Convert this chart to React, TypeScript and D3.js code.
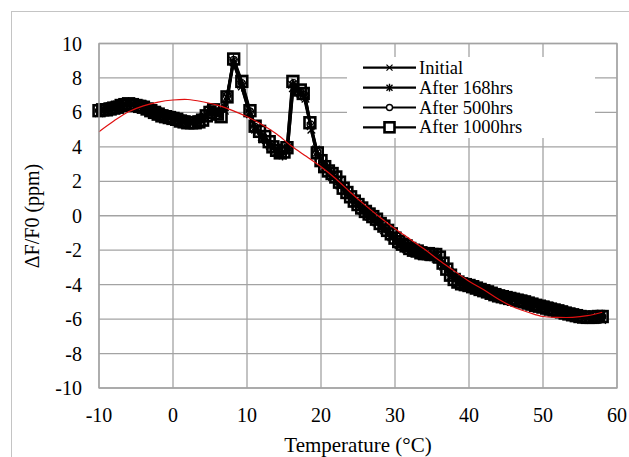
import React, { useEffect, useRef } from 'react'
import * as d3 from 'd3'

// x ticks / y ticks
const xTicks = [-10, 0, 10, 20, 30, 40, 50, 60]
const yTicks = [-10, -8, -6, -4, -2, 0, 2, 4, 6, 8, 10]

const seriesNames = ['Initial', 'After 168hrs', 'After 500hrs', 'After 1000hrs']

// [temperature, dF/F0]
const initial = [
  [-10, 5.95], [-9, 6.05], [-8, 6.15], [-7, 6.3], [-6, 6.4], [-5, 6.3], [-4, 6.2], [-3, 6.0],
  [-2, 5.8], [-1, 5.65], [0, 5.55], [1, 5.4], [2, 5.3], [3, 5.3], [4, 5.45], [5, 5.9],
  [6, 5.8], [7, 6.1], [7.4, 6.8], [8.1, 9.0], [9.2, 7.6], [10.3, 6.0], [11, 5.1], [12, 4.55],
  [13, 4.15], [14, 3.7], [14.7, 3.55], [15.4, 3.85], [16.1, 7.6], [17.1, 7.2], [17.8, 6.9], [18.6, 5.2],
  [19.4, 3.65], [20.4, 2.8], [21.5, 2.25], [22.5, 1.75], [23.5, 1.2], [24.5, 0.75], [25.5, 0.3], [26.5, -0.05],
  [27.5, -0.4], [28.5, -0.85], [29.5, -1.25], [30.5, -1.7], [31.5, -1.95], [32.5, -2.15], [33.5, -2.3], [34.5, -2.4],
  [35.5, -2.5], [36.5, -2.95], [37.5, -3.5], [38.5, -3.9], [39.5, -4.1], [40.5, -4.25], [41.5, -4.4], [42.5, -4.55],
  [43.5, -4.7], [44.5, -4.8], [45.5, -4.9], [46.5, -5.0], [47.5, -5.1], [48.5, -5.25], [49.5, -5.35], [50.5, -5.45],
  [51.5, -5.55], [52.5, -5.7], [53.5, -5.8], [54.5, -5.9], [55.5, -6.0], [56.5, -6.05], [57.5, -6.0], [58, -6.05]
]

const after168 = [
  [-10, 6.25], [-9, 6.3], [-8, 6.4], [-7, 6.5], [-6, 6.6], [-5, 6.55], [-4, 6.45], [-3, 6.25],
  [-2, 6.05], [-1, 5.9], [0, 5.8], [1, 5.65], [2, 5.55], [3, 5.55], [4, 5.7], [5, 6.15],
  [6, 6.0], [7, 6.3], [7.3, 6.9], [8.2, 8.9], [9.3, 7.5], [10.4, 5.9], [11.1, 5.0], [12.1, 4.45],
  [13.1, 4.05], [14.1, 3.65], [14.8, 3.5], [15.5, 3.95], [16.2, 7.4], [17.2, 7.1], [17.9, 6.8], [18.7, 5.0],
  [19.3, 3.85], [20.3, 3.1], [21.4, 2.5], [22.4, 2.0], [23.4, 1.45], [24.4, 1.0], [25.4, 0.55], [26.4, 0.2],
  [27.4, -0.15], [28.4, -0.6], [29.4, -1.0], [30.4, -1.45], [31.4, -1.7], [32.4, -1.9], [33.4, -2.05], [34.4, -2.15],
  [35.4, -2.25], [36.4, -2.7], [37.4, -3.25], [38.4, -3.65], [39.4, -3.85], [40.4, -4.0], [41.4, -4.15], [42.4, -4.3],
  [43.4, -4.45], [44.4, -4.55], [45.4, -4.65], [46.4, -4.75], [47.4, -4.85], [48.4, -5.0], [49.4, -5.1], [50.4, -5.2],
  [51.4, -5.3], [52.4, -5.45], [53.4, -5.55], [54.4, -5.65], [55.4, -5.75], [56.4, -5.8], [57.4, -5.75], [58, -5.75]
]

const after500 = [
  [-10, 6.1], [-9, 6.2], [-8, 6.3], [-7, 6.4], [-6, 6.5], [-5, 6.45], [-4, 6.3], [-3, 6.1],
  [-2, 5.95], [-1, 5.8], [0, 5.7], [1, 5.55], [2, 5.45], [3, 5.45], [4, 5.6], [5, 6.05],
  [6, 5.85], [7, 6.3], [7.3, 6.95], [8.2, 9.05], [9.3, 7.7], [10.4, 6.05], [11.1, 5.15], [12.2, 4.6],
  [13.2, 4.15], [14.2, 3.7], [14.9, 3.6], [15.5, 4.0], [16.3, 7.7], [17.2, 7.2], [17.8, 7.0], [18.6, 5.3],
  [19.5, 3.7], [20.5, 2.9], [21.6, 2.35], [22.6, 1.8], [23.6, 1.25], [24.6, 0.8], [25.6, 0.4], [26.6, 0.0],
  [27.6, -0.3], [28.6, -0.7], [29.6, -1.15], [30.6, -1.6], [31.6, -1.85], [32.6, -2.05], [33.6, -2.2], [34.6, -2.3],
  [35.6, -2.35], [36.6, -2.9], [37.6, -3.45], [38.6, -3.85], [39.6, -4.0], [40.6, -4.15], [41.6, -4.3], [42.6, -4.45],
  [43.6, -4.6], [44.6, -4.7], [45.6, -4.8], [46.6, -4.9], [47.6, -5.0], [48.6, -5.12], [49.6, -5.25], [50.6, -5.35],
  [51.6, -5.45], [52.6, -5.6], [53.6, -5.7], [54.6, -5.8], [55.6, -5.85], [56.6, -5.9], [57.6, -5.85], [58, -5.85]
]

const after1000 = [
  [-10, 6.1], [-9.5, 6.15], [-9, 6.15], [-8.5, 6.2], [-8, 6.25], [-7.5, 6.3], [-7, 6.4], [-6.5, 6.45],
  [-6, 6.5], [-5.5, 6.45], [-5, 6.4], [-4.5, 6.35], [-4, 6.3], [-3.5, 6.2], [-3, 6.1], [-2.5, 6.0],
  [-2, 5.9], [-1.5, 5.8], [-1, 5.75], [-0.5, 5.7], [0, 5.65], [0.5, 5.6], [1, 5.5], [1.5, 5.45],
  [2, 5.4], [2.5, 5.4], [3, 5.4], [3.5, 5.45], [4, 5.55], [4.5, 5.8], [5, 6.0], [5.5, 6.15],
  [6, 5.9], [6.5, 5.75], [7.3, 6.9], [8.2, 9.1], [9.3, 7.8], [10.4, 6.1], [11.1, 5.2], [11.7, 4.9],
  [12.4, 4.6], [13, 4.3], [13.5, 4.0], [14, 3.8], [14.5, 3.65], [15, 3.7], [15.4, 3.95], [16.2, 7.8],
  [17.2, 7.3], [17.6, 7.1], [18.5, 5.4], [19.5, 3.65], [20, 3.2], [20.5, 2.85], [21, 2.6], [21.5, 2.45],
  [22, 2.25], [22.5, 1.95], [23, 1.6], [23.5, 1.35], [24, 1.1], [24.5, 0.85], [25, 0.65], [25.5, 0.45],
  [26, 0.25], [26.5, 0.1], [27, -0.05], [27.5, -0.2], [28, -0.45], [28.5, -0.6], [29, -0.85], [29.5, -1.05],
  [30, -1.3], [30.5, -1.5], [31, -1.65], [31.5, -1.75], [32, -1.9], [32.5, -2.0], [33, -2.05], [33.5, -2.15],
  [34, -2.2], [34.5, -2.2], [35, -2.25], [35.5, -2.25], [36, -2.4], [36.5, -2.75], [37, -3.1], [37.5, -3.45],
  [38, -3.7], [38.5, -3.85], [39, -3.95], [39.5, -4.0], [40, -4.05], [40.5, -4.12], [41, -4.2], [41.5, -4.28],
  [42, -4.35], [42.5, -4.42], [43, -4.5], [43.5, -4.58], [44, -4.65], [44.5, -4.7], [45, -4.75], [45.5, -4.8],
  [46, -4.85], [46.5, -4.9], [47, -4.95], [47.5, -5.0], [48, -5.07], [48.5, -5.13], [49, -5.2], [49.5, -5.25],
  [50, -5.3], [50.5, -5.36], [51, -5.42], [51.5, -5.47], [52, -5.52], [52.5, -5.58], [53, -5.65], [53.5, -5.7],
  [54, -5.75], [54.5, -5.8], [55, -5.85], [55.5, -5.88], [56, -5.9], [56.5, -5.9], [57, -5.88], [57.5, -5.85],
  [58, -5.85]
]

// red trend line
const trend = [
  [-10, 4.88], [-8, 5.5], [-6, 6.04], [-4, 6.38], [-2, 6.6], [0, 6.72], [2, 6.75], [4, 6.62],
  [6, 6.42], [8, 6.12], [10, 5.75], [12, 5.3], [14, 4.75], [16, 4.05], [18, 3.45], [20, 2.85],
  [22, 2.15], [24, 1.35], [26, 0.6], [28, -0.1], [30, -0.75], [32, -1.35], [34, -1.95], [36, -2.6],
  [38, -3.2], [40, -3.8], [42, -4.3], [44, -4.85], [46, -5.3], [48, -5.6], [50, -5.85], [52, -5.9],
  [54, -5.9], [56, -5.8], [58, -5.6]
]

const FONT = "'Liberation Serif', 'Times New Roman', serif"

const App = () => {
  const ref = useRef(null)

  useEffect(() => {
    const svg = d3.select(ref.current)
    svg.selectAll('*').remove()

    const left = 99, right = 617, top = 43.5, bottom = 388
    const x = d3.scaleLinear().domain([-10, 60]).range([left, right])
    const y = d3.scaleLinear().domain([-10, 10]).range([bottom, top])

    // outer chart border
    svg.append('rect').attr('x', 11.5).attr('y', 11.5).attr('width', 700).attr('height', 500)
      .attr('fill', 'white').attr('stroke', '#c4c4c4').attr('stroke-width', 1)

    // grid
    const grid = svg.append('g').attr('stroke', '#a3a3a3').attr('stroke-width', 1.3)
    grid.selectAll('.vg').data(xTicks).join('line').attr('class', 'vg')
      .attr('x1', d => x(d)).attr('x2', d => x(d)).attr('y1', top).attr('y2', bottom)
    grid.selectAll('.hg').data(yTicks).join('line').attr('class', 'hg')
      .attr('x1', left).attr('x2', right).attr('y1', d => y(d)).attr('y2', d => y(d))

    // tick labels
    svg.append('g').selectAll('text').data(xTicks).join('text')
      .attr('x', d => x(d)).attr('y', 422).attr('text-anchor', 'middle')
      .style('font-family', FONT).style('font-size', '20px').text(d => d)
    svg.append('g').selectAll('text').data(yTicks).join('text')
      .attr('x', 82).attr('y', d => y(d) + 7).attr('text-anchor', 'end')
      .style('font-family', FONT).style('font-size', '20px').text(d => d)

    // axis titles
    svg.append('text').attr('x', (left + right) / 2).attr('y', 452).attr('text-anchor', 'middle')
      .style('font-family', FONT).style('font-size', '21px').text('Temperature (°C)')
    svg.append('text').attr('transform', 'translate(39, 216) rotate(-90)').attr('text-anchor', 'middle')
      .style('font-family', FONT).style('font-size', '20px').text('ΔF/F0 (ppm)')

    const line = d3.line().x(d => x(d[0])).y(d => y(d[1]))

    // marker drawers
    const drawX = (g, cx, cy, s) => {
      g.append('path').attr('d', `M${cx - s},${cy - s}L${cx + s},${cy + s}M${cx - s},${cy + s}L${cx + s},${cy - s}`)
        .attr('stroke', 'black').attr('stroke-width', 1.2)
    }
    const drawStar = (g, cx, cy, s) => {
      g.append('path').attr('d', `M${cx - s},${cy - s}L${cx + s},${cy + s}M${cx - s},${cy + s}L${cx + s},${cy - s}M${cx},${cy - s * 1.3}L${cx},${cy + s * 1.3}`)
        .attr('stroke', 'black').attr('stroke-width', 1.4)
    }
    const drawCircle = (g, cx, cy, s, fill) => {
      g.append('circle').attr('cx', cx).attr('cy', cy).attr('r', s)
        .attr('fill', fill).attr('stroke', 'black').attr('stroke-width', 1.4)
    }
    const drawSquare = (g, cx, cy, s, fill) => {
      g.append('rect').attr('x', cx - s).attr('y', cy - s).attr('width', 2 * s).attr('height', 2 * s)
        .attr('fill', fill).attr('stroke', 'black').attr('stroke-width', 2.6)
    }

    const allSeries = [
      { data: initial, draw: drawX, size: 3.8 },
      { data: after168, draw: drawStar, size: 3.8 },
      { data: after500, draw: drawCircle, size: 3.5 },
      { data: after1000, draw: drawSquare, size: 5.4 }
    ]

    allSeries.forEach(s => {
      const g = svg.append('g')
      g.append('path').datum(s.data).attr('d', line)
        .attr('fill', 'none').attr('stroke', 'black').attr('stroke-width', 2.8)
      s.data.forEach(d => s.draw(g, x(d[0]), y(d[1]), s.size, 'none'))
    })

    // red trend line
    svg.append('path').datum(trend)
      .attr('d', d3.line().x(d => x(d[0])).y(d => y(d[1])).curve(d3.curveCatmullRom))
      .attr('fill', 'none').attr('stroke', '#e01010').attr('stroke-width', 1.2)

    // plot border
    svg.append('rect').attr('x', left).attr('y', top).attr('width', right - left).attr('height', bottom - top)
      .attr('fill', 'none').attr('stroke', '#a3a3a3').attr('stroke-width', 1.3)

    // legend
    const lg = svg.append('g')
    lg.append('rect').attr('x', 347).attr('y', 57).attr('width', 248).attr('height', 81).attr('fill', 'white')
    const rowsY = [67.7, 87.7, 107.5, 127.3]
    seriesNames.forEach((name, i) => {
      const ry = rowsY[i]
      lg.append('line').attr('x1', 363).attr('x2', 416).attr('y1', ry).attr('y2', ry)
        .attr('stroke', 'black').attr('stroke-width', 2.2)
      allSeries[i].draw(lg, 389.5, ry, i === 3 ? 5 : 3, 'white')
      lg.append('text').attr('x', 419).attr('y', ry + 6).style('font-family', FONT)
        .style('font-size', '18.5px').text(name)
    })
  }, [])

  return (
    <svg ref={ref} width={629} height={457} style={{ position: 'absolute', left: 0, top: 0, background: 'white' }} />
  )
}

export default App
